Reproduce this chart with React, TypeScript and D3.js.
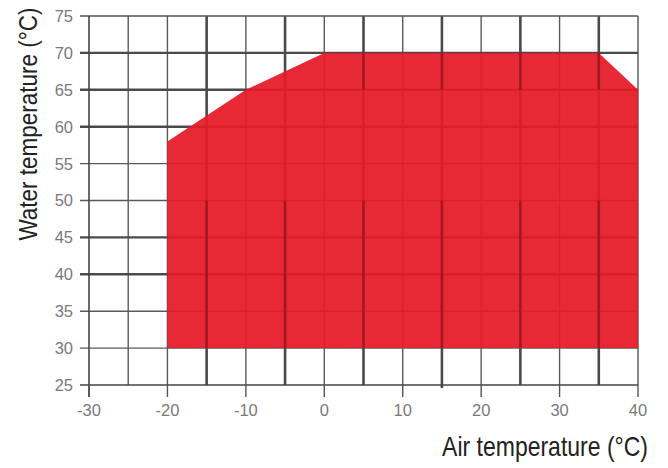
import React from "react";
import * as d3 from "d3";

const W = 668;
const H = 468;

const xTickLabels = [-30, -20, -10, 0, 10, 20, 30, 40];
const yTickLabels = [25, 30, 35, 40, 45, 50, 55, 60, 65, 70, 75];
const thickX = [-15, -5, 5, 15, 25, 35];
const thinX = [-25, -20, -10, 0, 10, 20, 30];
const thickY = [40, 45, 60, 65, 70];
const thinY = [30, 35, 50, 55];

// operating envelope: air temperature vs water temperature
const envAir = [-20, -10, 0, 35, 40, 40, -20];
const envWater = [58, 65, 70, 70, 65, 30, 30];

const xTitle = "Air temperature (°C)";
const yTitle = "Water temperature (°C)";

export default function App() {
  const x = d3.scaleLinear().domain([-30, 40]).range([89, 638]);
  const y = d3.scaleLinear().domain([25, 75]).range([385, 16]);

  const pts: [number, number][] = envAir.map((a, i) => [x(a), y(envWater[i])]);
  const area = d3.line()(pts) + "Z";

  const font = "'Liberation Sans', Arial, sans-serif";

  return (
    <svg
      width={W}
      height={H}
      style={{ position: "absolute", left: 0, top: 0, background: "#fff" }}
      fontFamily={font}
    >
      {/* grid */}
      {thinX.map((v) => (
        <line key={"tx" + v} x1={x(v)} x2={x(v)} y1={y(75)} y2={y(25)} stroke="#5a5a5a" strokeWidth={1.4} />
      ))}
      {thickX.map((v) => (
        <line key={"kx" + v} x1={x(v)} x2={x(v)} y1={y(75)} y2={y(25) + (v === 15 ? 3 : 0)} stroke="#4a4a4a" strokeWidth={2.6} />
      ))}
      {thinY.map((v) => (
        <line key={"ty" + v} x1={x(-30) - 9} x2={x(40)} y1={y(v)} y2={y(v)} stroke="#5a5a5a" strokeWidth={1.4} />
      ))}
      {thickY.map((v) => (
        <line key={"ky" + v} x1={x(-30) - 9} x2={x(40)} y1={y(v)} y2={y(v)} stroke="#4a4a4a" strokeWidth={2.4} />
      ))}
      <line x1={x(-30) - 9} x2={x(40)} y1={y(75)} y2={y(75)} stroke="#555" strokeWidth={1.4} />
      <line x1={x(40)} x2={x(40)} y1={y(75)} y2={y(25)} stroke="#555" strokeWidth={1.4} />

      {/* envelope */}
      <path d={area} fill="#e41c28" fillOpacity={0.94} />

      {/* darker grid segments visible through fill */}
      {thickX.map((v) => (
        <line key={"dl" + v} x1={x(v)} x2={x(v)} y1={y(50)} y2={y(30)} stroke="#7a1016" strokeWidth={2.6} strokeOpacity={0.55} />
      ))}
      {thickX.filter((v) => v > 0).map((v) => (
        <line key={"du" + v} x1={x(v)} x2={x(v)} y1={y(70)} y2={y(65)} stroke="#7a1016" strokeWidth={2.6} strokeOpacity={0.55} />
      ))}

      {/* axes */}
      <line x1={x(-30) - 9} x2={x(40)} y1={y(25)} y2={y(25)} stroke="#444" strokeWidth={1.6} />
      <line x1={x(-30)} x2={x(-30)} y1={y(75)} y2={y(25) + 12} stroke="#444" strokeWidth={1.6} />
      {xTickLabels.map((v) => (
        <line key={"xt" + v} x1={x(v)} x2={x(v)} y1={y(25)} y2={y(25) + 12} stroke="#555" strokeWidth={1.4} />
      ))}

      {/* tick labels */}
      {yTickLabels.map((v) => (
        <text key={"yl" + v} x={73} y={y(v)} dy="0.36em" textAnchor="end" fontSize={16.5} fill="#7a7a7a">
          {v}
        </text>
      ))}
      {xTickLabels.map((v) => (
        <text key={"xl" + v} x={x(v)} y={416} textAnchor="middle" fontSize={16.5} fill="#7a7a7a">
          {v}
        </text>
      ))}

      {/* axis titles */}
      <text transform="translate(648,456) scale(1,1.2)" textAnchor="end" fontSize={23} fill="#222">
        {xTitle}
      </text>
      <text
        transform="translate(37,124) rotate(-90) scale(1,1.15)"
        textAnchor="middle"
        fontSize={22.5}
        fill="#222"
      >
        {yTitle}
      </text>
    </svg>
  );
}
